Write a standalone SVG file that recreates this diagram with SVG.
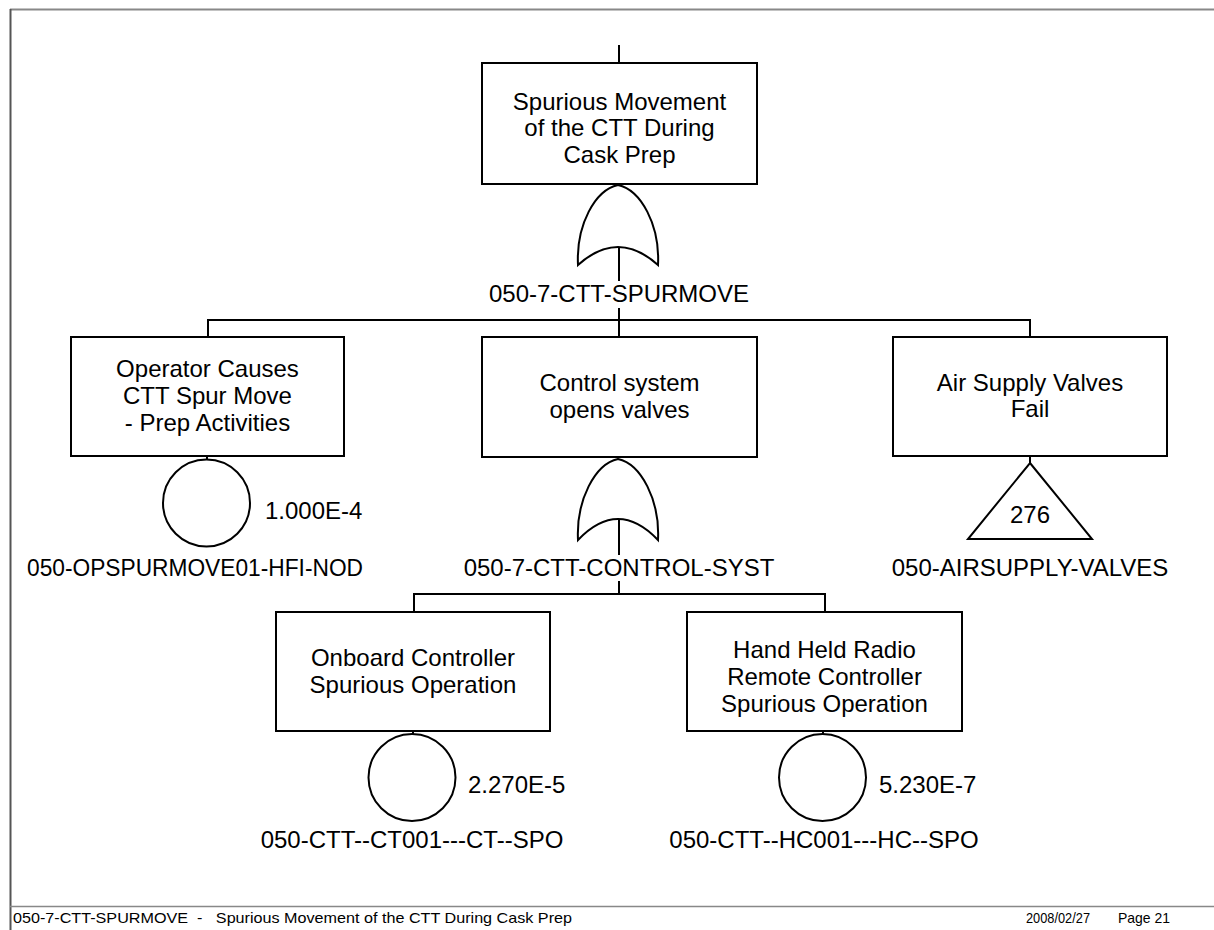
<svg xmlns="http://www.w3.org/2000/svg" width="1214" height="930" viewBox="0 0 1214 930">
<style>
.box{fill:#fff;stroke:#000;stroke-width:2}
.sym{fill:#fff;stroke:#000;stroke-width:2}
.ln{fill:none;stroke:#000;stroke-width:2}
.t{font-family:"Liberation Sans",Arial,sans-serif;font-size:24px;fill:#000;text-anchor:middle}
.v{font-family:"Liberation Sans",Arial,sans-serif;font-size:24px;fill:#000}
.f{font-family:"Liberation Sans",Arial,sans-serif;font-size:15px;fill:#000}
</style>
<rect x="0" y="0" width="1214" height="930" fill="#fff"/>
<g id="frame">
<line x1="10" y1="9.5" x2="1214" y2="9.5" stroke="#888" stroke-width="2"/>
<line x1="10.5" y1="9" x2="10.5" y2="930" stroke="#555" stroke-width="2"/>
<line x1="10" y1="906.5" x2="1214" y2="906.5" stroke="#888" stroke-width="1.5"/>
<text class="f" x="13" y="923" xml:space="preserve" textLength="559" lengthAdjust="spacingAndGlyphs">050-7-CTT-SPURMOVE  -   Spurious Movement of the CTT During Cask Prep</text>
<text class="f" x="1026" y="923" textLength="64" lengthAdjust="spacingAndGlyphs">2008/02/27</text>
<text class="f" x="1118" y="923" textLength="52" lengthAdjust="spacingAndGlyphs">Page 21</text>
</g>
<g id="connectors">
<line class="ln" x1="619" y1="45" x2="619" y2="63"/>
<line class="ln" x1="619" y1="247" x2="619" y2="320"/>
<polyline class="ln" points="208,337 208,320 1030,320 1030,337"/>
<line class="ln" x1="619" y1="320" x2="619" y2="337"/>
<line class="ln" x1="207" y1="456" x2="207" y2="460"/>
<line class="ln" x1="1030" y1="456" x2="1030" y2="464"/>
<line class="ln" x1="619" y1="519" x2="619" y2="594"/>
<polyline class="ln" points="414,612 414,594 825,594 825,612"/>
<line class="ln" x1="413" y1="731" x2="413" y2="734"/>
<line class="ln" x1="823" y1="731" x2="823" y2="734"/>
</g>
<g id="top-event">
<rect class="box" x="482" y="63" width="275" height="121"/>
<text class="t" x="619.5" y="109.5">Spurious Movement</text>
<text class="t" x="619.5" y="136">of the CTT During</text>
<text class="t" x="619.5" y="162.5">Cask Prep</text>
</g>
<g id="gate-spurmove">
<path class="sym" d="M578,265 C576,225 595,190 618,185 C641,190 660,225 658,265 Q618,229 578,265 Z"/>
<line class="ln" x1="619" y1="247" x2="619" y2="280"/>
<rect x="486" y="281" width="266" height="27" fill="#fff"/>
<text class="t" x="619" y="302">050-7-CTT-SPURMOVE</text>
</g>
<g id="operator">
<rect class="box" x="71" y="337" width="273" height="119"/>
<text class="t" x="207.5" y="377">Operator Causes</text>
<text class="t" x="207.5" y="404">CTT Spur Move</text>
<text class="t" x="207.5" y="431">- Prep Activities</text>
<circle class="sym" cx="206.5" cy="503" r="43.5"/>
<text class="v" x="265" y="519">1.000E-4</text>
<text class="v" x="27" y="576" textLength="336" lengthAdjust="spacingAndGlyphs">050-OPSPURMOVE01-HFI-NOD</text>
</g>
<g id="control">
<rect class="box" x="482" y="337" width="275" height="120"/>
<text class="t" x="619.5" y="391">Control system</text>
<text class="t" x="619.5" y="418">opens valves</text>
</g>
<g id="gate-control">
<path class="sym" d="M578,540 C576,500 595,464 618,459 C641,464 660,500 658,540 Q618,498 578,540 Z"/>
<line class="ln" x1="619" y1="519" x2="619" y2="553"/>
<rect x="460" y="555" width="320" height="26" fill="#fff"/>
<text class="t" x="619" y="576">050-7-CTT-CONTROL-SYST</text>
</g>
<g id="airsupply">
<rect class="box" x="893" y="337" width="274" height="119"/>
<text class="t" x="1030" y="391">Air Supply Valves</text>
<text class="t" x="1030" y="417">Fail</text>
<polygon class="sym" points="1030,463 1092,539 968,539"/>
<text class="t" x="1030" y="523">276</text>
<text class="t" x="1030" y="576">050-AIRSUPPLY-VALVES</text>
</g>
<g id="onboard">
<rect class="box" x="276" y="612" width="274" height="119"/>
<text class="t" x="413" y="666">Onboard Controller</text>
<text class="t" x="413" y="693">Spurious Operation</text>
<circle class="sym" cx="412" cy="777.5" r="43.5"/>
<text class="v" x="468" y="793">2.270E-5</text>
<text class="t" x="412" y="848">050-CTT--CT001---CT--SPO</text>
</g>
<g id="handheld">
<rect class="box" x="687" y="612" width="275" height="119"/>
<text class="t" x="824.5" y="658">Hand Held Radio</text>
<text class="t" x="824.5" y="685">Remote Controller</text>
<text class="t" x="824.5" y="712">Spurious Operation</text>
<circle class="sym" cx="822.5" cy="777.5" r="43.5"/>
<text class="v" x="879" y="793">5.230E-7</text>
<text class="t" x="824" y="848">050-CTT--HC001---HC--SPO</text>
</g>
</svg>
